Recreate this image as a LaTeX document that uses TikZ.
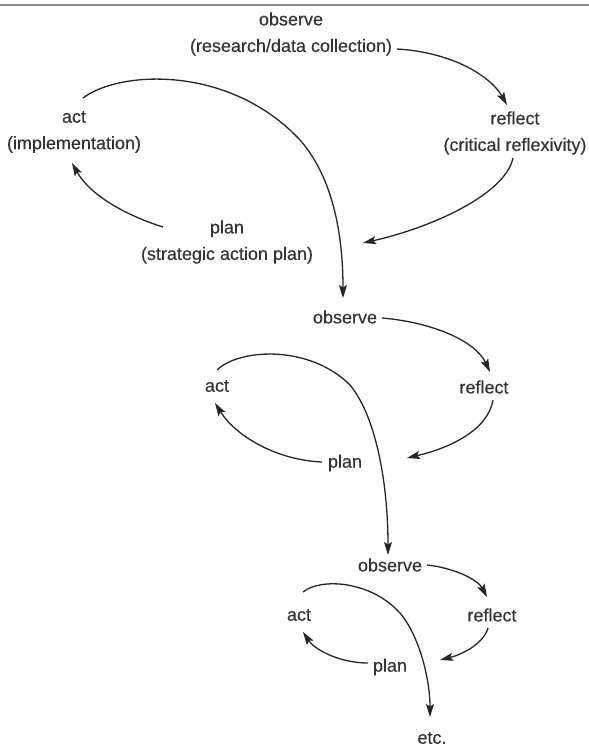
\documentclass[tikz,border=0pt]{standalone}
\usepackage{fontspec}
\setmainfont{Liberation Sans}[FakeBold=0.3]
\usetikzlibrary{arrows.meta}
\definecolor{txt}{HTML}{333333}
\definecolor{ln}{HTML}{262626}
\definecolor{rule}{HTML}{8C8C8C}
\begin{document}
\begin{tikzpicture}[x=1pt,y=-1pt,
  lbl/.style={inner sep=0pt, align=center, text=txt, font=\fontsize{18}{26.5}\selectfont},
  flow/.style={draw=ln, line width=1.3pt, -{Stealth[length=13pt,width=8pt,inset=2.5pt]}}]
\useasboundingbox[fill=white] (0,0) rectangle (589,747);
\draw[rule, line width=2pt] (0,5) -- (589,5);
% cycle 1
\node[lbl] (obs1) at (291,34) {observe\\(research/data collection)};
\node[lbl] (refl1) at (515,133) {reflect\\(critical reflexivity)};
\node[lbl] (plan1) at (227,242) {plan\\(strategic action plan)};
\node[lbl] (act1) at (74,132) {act\\(implementation)};
% cycle 2
\node[lbl] (obs2) at (345,317) {observe};
\node[lbl] (refl2) at (484,387) {reflect};
\node[lbl] (plan2) at (345,463) {plan};
\node[lbl] (act2) at (217,386) {act};
% cycle 3
\node[lbl] (obs3) at (390,565) {observe};
\node[lbl] (refl3) at (492,615) {reflect};
\node[lbl] (plan3) at (390,667) {plan};
\node[lbl] (act3) at (299,615) {act};
\node[lbl] (etc) at (432,738) {etc.};
% arrows cycle 1
\draw[flow] ([shift={(106,15)}]obs1.center) .. controls (450,52) and (490,75) .. ([shift={(-8,-28)}]refl1.center);
\draw[flow] ([shift={(-2,25)}]refl1.center) .. controls (505,195) and (430,228) .. ([shift={(136,1)}]plan1.center);
\draw[flow] ([shift={(-64,-15)}]plan1.center) .. controls (125,215) and (90,195) .. ([shift={(-2,31)}]act1.center);
\draw[flow] ([shift={(9,-34)}]act1.center) .. controls (120,70) and (230,65) .. (300,140) .. controls (335,180) and (343,240) .. ([shift={(-2,-19)}]obs2.center);
% arrows cycle 2
\draw[flow] ([shift={(37,1)}]obs2.center) .. controls (430,322) and (475,340) .. ([shift={(6,-15)}]refl2.center);
\draw[flow] ([shift={(9,13)}]refl2.center) .. controls (488,430) and (450,448) .. ([shift={(62,-5)}]plan2.center);
\draw[flow] ([shift={(-23,-1)}]plan2.center) .. controls (275,460) and (235,435) .. ([shift={(-2,17)}]act2.center);
\draw[flow] ([shift={(0,-16)}]act2.center) .. controls (240,348) and (310,345) .. (350,385) .. controls (375,415) and (388,480) .. ([shift={(-2,-10)}]obs3.center);
% arrows cycle 3
\draw[flow] ([shift={(37,0)}]obs3.center) .. controls (455,568) and (478,580) .. ([shift={(-5,-18)}]refl3.center);
\draw[flow] ([shift={(-4,13)}]refl3.center) .. controls (483,645) and (460,655) .. ([shift={(50,-7)}]plan3.center);
\draw[flow] ([shift={(-22,-4)}]plan3.center) .. controls (340,663) and (315,650) .. ([shift={(4,17)}]act3.center);
\draw[flow] ([shift={(4,-23)}]act3.center) .. controls (320,578) and (370,580) .. (400,613) .. controls (420,637) and (430,680) .. ([shift={(-2,-21)}]etc.center);
\end{tikzpicture}
\end{document}
